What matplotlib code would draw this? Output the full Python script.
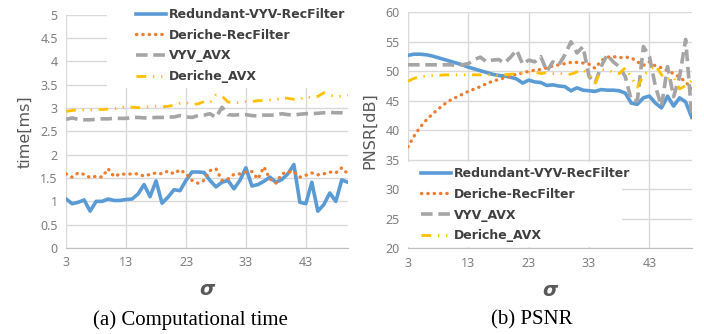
import matplotlib.pyplot as plt
import matplotlib.patches as mpatches
import numpy as np

# Data (sigma 3..50)
sigma = list(range(3, 51))

# (a) computational time [ms]
time_redundant = [1.05, 0.95, 0.98, 1.03, 0.79, 1.00, 1.00, 1.05, 1.02, 1.02,
                  1.04, 1.05, 1.16, 1.36, 1.10, 1.44, 0.96, 1.09, 1.25, 1.23,
                  1.45, 1.63, 1.63, 1.62, 1.45, 1.31, 1.41, 1.45, 1.27, 1.45,
                  1.72, 1.33, 1.36, 1.43, 1.52, 1.41, 1.47, 1.59, 1.79, 0.98,
                  0.95, 1.41, 0.79, 0.93, 1.18, 1.00, 1.46, 1.41]
time_deriche = [1.59, 1.52, 1.61, 1.58, 1.51, 1.54, 1.52, 1.70, 1.53, 1.59,
                1.58, 1.59, 1.59, 1.54, 1.58, 1.61, 1.59, 1.65, 1.59, 1.68,
                1.59, 1.45, 1.39, 1.45, 1.66, 1.70, 1.45, 1.48, 1.58, 1.59,
                1.63, 1.64, 1.48, 1.74, 1.48, 1.39, 1.59, 1.63, 1.64, 1.52,
                1.56, 1.61, 1.57, 1.59, 1.63, 1.61, 1.72, 1.59]
time_vyv_avx = [2.76, 2.79, 2.76, 2.75, 2.75, 2.76, 2.77, 2.77, 2.78, 2.78,
                2.78, 2.80, 2.80, 2.79, 2.79, 2.80, 2.80, 2.81, 2.81, 2.84,
                2.81, 2.80, 2.84, 2.85, 2.88, 2.80, 3.02, 2.86, 2.85, 2.86,
                2.86, 2.84, 2.83, 2.85, 2.85, 2.85, 2.88, 2.86, 2.85, 2.87,
                2.88, 2.88, 2.89, 2.90, 2.91, 2.90, 2.90, 2.90]
time_deriche_avx = [2.93, 2.95, 2.96, 2.96, 2.96, 2.97, 2.97, 2.98, 2.99, 2.99,
                    3.04, 3.02, 3.01, 3.02, 3.03, 3.04, 3.03, 3.04, 3.06, 3.10,
                    3.12, 3.08, 3.09, 3.14, 3.12, 3.28, 3.26, 3.13, 3.12, 3.12,
                    3.14, 3.14, 3.16, 3.16, 3.17, 3.18, 3.22, 3.21, 3.19, 3.19,
                    3.25, 3.22, 3.25, 3.33, 3.27, 3.26, 3.25, 3.28]

# (b) PSNR [dB]
psnr_redundant = [52.7, 52.9, 52.9, 52.8, 52.6, 52.3, 52.0, 51.7, 51.4, 51.1,
                  50.7, 50.4, 50.1, 49.8, 49.5, 49.3, 49.2, 49.0, 48.7, 48.0,
                  48.5, 48.2, 48.1, 47.6, 47.7, 47.5, 47.4, 46.7, 47.2, 46.8,
                  46.7, 46.6, 46.9, 46.8, 46.8, 46.7, 46.3, 44.6, 44.4, 45.5,
                  45.8, 44.6, 43.8, 45.8, 44.1, 45.5, 44.8, 42.2]
psnr_deriche = [37.2, 39.0, 40.5, 41.7, 42.7, 43.6, 44.4, 45.1, 45.6, 46.1,
                46.6, 47.0, 47.4, 47.9, 48.3, 48.6, 48.9, 49.2, 49.5, 49.7,
                50.0, 50.2, 50.3, 50.6, 50.9, 51.1, 51.3, 51.5, 51.5, 51.4,
                51.2, 50.5, 51.8, 52.4, 52.5, 52.3, 52.4, 52.3, 51.6, 51.0,
                51.6, 50.9, 50.6, 50.1, 49.6, 49.0, 48.2, 47.0]
psnr_vyv_avx = [51.1, 51.1, 51.1, 51.1, 51.1, 51.1, 51.1, 51.1, 51.0, 51.1,
                51.3, 52.0, 52.4, 51.6, 51.9, 52.0, 51.4, 52.4, 53.6, 51.2,
                51.9, 51.6, 52.5, 50.0, 51.6, 51.1, 52.8, 55.0, 53.1, 54.2,
                49.1, 48.0, 50.8, 52.8, 51.6, 50.8, 49.1, 45.1, 45.0, 54.2,
                52.5, 47.4, 44.1, 50.8, 45.7, 49.1, 55.4, 42.6]
psnr_deriche_avx = [48.3, 48.8, 49.1, 49.2, 49.3, 49.3, 49.4, 49.4, 49.4, 49.4,
                    49.4, 49.4, 49.4, 49.4, 49.4, 49.3, 49.4, 49.5, 49.6, 49.7,
                    49.8, 49.9, 49.6, 49.8, 49.6, 49.7, 49.5, 49.5, 49.9, 50.2,
                    49.5, 48.0, 50.2, 50.3, 49.8, 49.6, 50.6, 49.0, 47.3, 49.3,
                    50.2, 51.0, 49.4, 48.6, 49.1, 47.0, 47.6, 48.4]

labels = ['Redundant-VYV-RecFilter', 'Deriche-RecFilter', 'VYV_AVX', 'Deriche_AVX']
colors = ['#5B9BD5', '#ED7D31', '#A5A5A5', '#FFC000']
styles = [dict(linestyle='-', linewidth=2.6),
          dict(linestyle=(0, (0.1, 1.8)), linewidth=2.4, dash_capstyle='round'),
          dict(linestyle=(0, (3.2, 1.6)), linewidth=2.6),
          dict(linestyle=(0, (3.5, 2.4, 0.5, 2.4, 0.5, 2.4)), linewidth=2.0)]

tick_col = '#7F7F7F'
label_col = '#595959'
grid_col = '#D9D9D9'
plt.rcParams['font.family'] = ['Noto Sans', 'DejaVu Sans']

fig = plt.figure(figsize=(7.04, 3.34), dpi=100, facecolor='white')
ax1 = fig.add_axes([0.094, 0.2575, 0.40, 0.698])
ax2 = fig.add_axes([0.5795, 0.2566, 0.403, 0.7066])


def style_axes(ax, ylim, ystep, ylabel):
    ax.set_xlim(3, 50)
    ax.set_ylim(*ylim)
    ax.set_xticks([3, 13, 23, 33, 43])
    ax.set_yticks(np.arange(ylim[0], ylim[1] + ystep / 2, ystep))
    ax.yaxis.set_major_formatter(plt.FuncFormatter(lambda v, p: f'{v:g}'))
    ax.grid(True, color=grid_col, linewidth=1.0)
    ax.set_axisbelow(True)
    for s in ['top', 'right', 'left']:
        ax.spines[s].set_visible(False)
    ax.spines['bottom'].set_color('#BFBFBF')
    ax.tick_params(length=0, labelsize=9, colors=tick_col, pad=6)
    ax.set_ylabel(ylabel, fontsize=11.5, color=label_col, family='DejaVu Sans',
                  labelpad=6)
    ax.set_xlabel('σ', fontsize=14, color=label_col, fontweight='bold',
                  fontstyle='italic', family='DejaVu Sans', labelpad=8)


style_axes(ax1, (0, 5), 0.5, 'time[ms]')
style_axes(ax2, (20, 60), 5, 'PNSR[dB]')

time_series = [time_redundant, time_deriche, time_vyv_avx, time_deriche_avx]
psnr_series = [psnr_redundant, psnr_deriche, psnr_vyv_avx, psnr_deriche_avx]
for ys, lab, c, st in zip(time_series, labels, colors, styles):
    ax1.plot(sigma, ys, color=c, label=lab, **st)
for ys, lab, c, st in zip(psnr_series, labels, colors, styles):
    ax2.plot(sigma, ys, color=c, label=lab, **st)

# white boxes behind legends that hide the gridlines
ax1.add_patch(mpatches.Rectangle((107 / 704, 1 - 88 / 334), 250 / 704, 88 / 334,
                                 transform=fig.transFigure, facecolor='white',
                                 edgecolor='none', zorder=1, clip_on=False))
ax2.add_patch(mpatches.Rectangle((404 / 704, 1 - 247 / 334), 218 / 704, 85 / 334,
                                 transform=fig.transFigure, facecolor='white',
                                 edgecolor='none', zorder=1, clip_on=False))

leg_kw = dict(handlelength=2.4, handletextpad=0.2, labelspacing=0.62,
              borderpad=0.3, frameon=False,
              prop={'weight': 'bold', 'size': 9, 'family': 'DejaVu Sans'})
leg1 = ax1.legend(loc='upper left', bbox_to_anchor=(126 / 704, 1 + 2 / 334),
                  bbox_transform=fig.transFigure, **leg_kw)
leg2 = ax2.legend(loc='upper left', bbox_to_anchor=(411 / 704, 1 - 157 / 334),
                  bbox_transform=fig.transFigure, **leg_kw)
for leg in (leg1, leg2):
    leg.set_zorder(5)
    for t in leg.get_texts():
        t.set_color('#404040')

# Captions
fig.text(0.27, 0.042, '(a) Computational time', ha='center', va='center',
         fontsize=15, family='Liberation Serif')
fig.text(0.755, 0.042, '(b) PSNR', ha='center', va='center',
         fontsize=15, family='Liberation Serif')

plt.savefig('out.png', dpi=100, facecolor='white')
